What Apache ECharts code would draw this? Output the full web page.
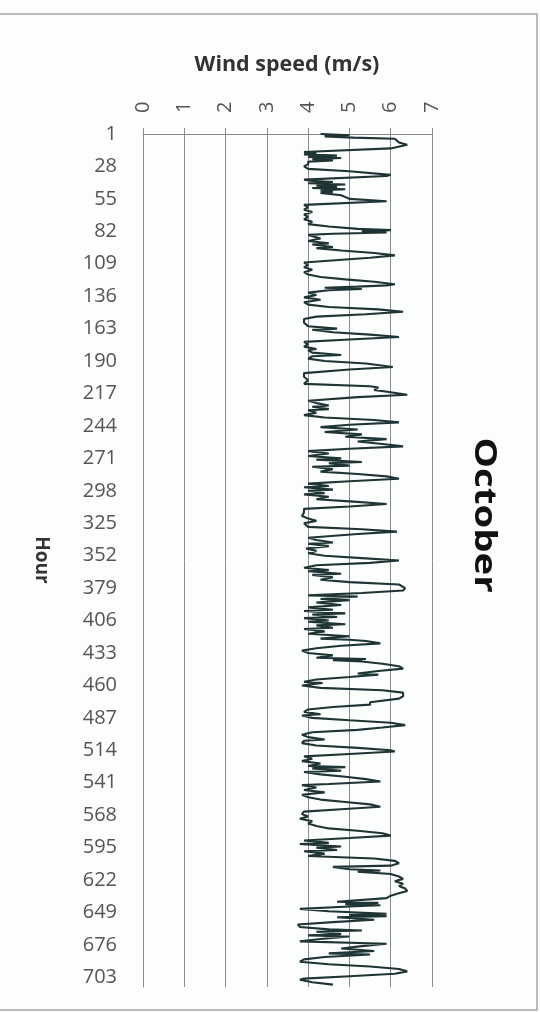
<!DOCTYPE html>
<html>
<head>
<meta charset="utf-8">
<script src="https://cdn.jsdelivr.net/npm/echarts@6/dist/echarts.min.js"></script>
<style>
html,body{margin:0;padding:0;background:#fcfdfd;}
#chart{width:540px;height:1012px;}
</style>
</head>
<body>
<div id="chart"></div>
<script>
// Hour index of each read point (turning points of the trace)
var hours = [
  1,2,3,4,5,8,10,13,16,17,
  18,19,20,21,22,23,24,26,28,30,
  32,35,36,39,40,41,42,43,44,45,
  46,47,48,49,50,52,55,57,60,62,
  64,66,68,70,72,74,76,78,80,81,
  82,83,84,85,86,88,90,92,93,95,
  96,98,100,102,104,108,110,112,114,116,
  118,120,122,124,126,127,128,129,130,131,
  133,135,137,139,141,143,145,147,149,151,
  153,155,158,161,163,164,166,168,170,172,
  174,176,178,180,181,183,185,186,188,190,
  192,195,197,200,203,206,209,211,212,214,
  216,218,220,223,225,227,228,230,231,233,
  235,237,239,241,243,245,247,249,251,253,
  255,257,259,261,263,265,267,269,271,272,
  274,275,277,278,280,282,284,286,288,290,
  292,294,295,297,298,300,301,303,305,307,
  309,311,313,316,319,321,323,325,328,330,
  332,334,337,339,341,342,344,346,348,350,
  352,354,356,358,360,362,364,365,367,368,
  370,372,374,376,379,381,383,385,386,388,
  389,391,393,395,397,398,400,401,403,404,
  406,407,409,410,412,413,415,417,419,421,
  422,423,425,427,429,431,433,435,437,438,
  439,440,442,444,446,448,450,451,453,455,
  457,458,460,462,464,466,469,471,474,476,
  478,480,482,484,485,487,489,491,493,495,
  497,499,501,503,505,506,508,510,512,514,
  515,517,519,521,523,525,527,528,529,531,
  532,534,536,538,540,542,543,545,547,549,
  551,553,555,557,559,561,563,565,567,569,
  571,573,575,577,579,581,583,585,587,589,
  591,592,594,595,597,598,600,602,604,606,
  608,610,611,613,614,615,617,619,621,623,
  625,627,629,631,633,635,637,638,640,641,
  642,643,644,646,648,650,651,652,653,655,
  657,659,661,663,664,665,667,668,669,671,
  673,675,677,679,681,683,684,686,688,690,
  692,694,696,698,700,702,704,705,707,709
];
// Wind speed (m/s) at those hours
var speeds = [
  4.3,5.0,4.4,5.1,6.1,6.2,6.4,6.0,3.9,4.2,
  3.9,4.7,4.0,4.8,4.1,4.6,4.0,4.0,3.9,4.0,
  5.0,6.0,5.9,3.9,4.1,4.6,4.0,4.9,4.2,4.7,
  4.1,4.9,4.3,4.6,4.3,4.8,5.0,5.9,3.9,4.0,
  3.9,4.1,3.9,4.0,3.9,4.1,4.0,4.5,5.2,6.0,
  5.3,5.9,4.6,4.0,4.0,4.3,4.0,4.5,4.1,4.6,
  4.2,4.8,5.6,6.1,5.5,3.9,4.0,3.9,4.1,3.9,
  4.0,4.3,4.9,5.6,6.1,5.9,5.2,4.4,5.3,4.5,
  4.0,4.2,3.9,4.3,3.9,4.0,4.5,5.7,6.3,5.4,
  4.2,3.9,3.9,4.0,4.7,4.1,4.6,5.5,6.2,5.0,
  3.9,4.0,3.9,4.2,4.0,4.1,4.8,4.1,4.0,4.4,
  5.4,6.05,5.0,3.9,3.9,4.0,3.9,5.5,5.7,5.6,
  6.0,6.4,5.2,4.0,4.2,4.5,4.1,4.5,4.0,4.2,
  3.9,4.4,5.6,6.2,5.0,4.3,5.2,4.4,5.3,4.9,
  5.9,5.2,5.8,6.3,5.0,4.0,4.5,4.0,4.8,4.2,
  5.3,4.5,5.0,4.1,4.6,4.3,5.2,5.9,6.2,5.0,
  4.0,4.5,3.9,4.6,4.0,4.4,3.9,4.5,4.2,5.1,
  5.9,5.0,3.9,3.9,3.85,4.0,4.2,3.9,4.0,5.3,
  6.15,5.2,4.0,4.2,4.6,4.0,4.5,3.95,4.2,4.0,
  4.4,5.3,6.2,5.5,4.2,3.9,4.5,4.0,4.8,4.1,
  4.6,4.3,5.0,6.2,6.35,6.3,5.3,4.0,5.2,4.3,
  5.0,4.2,4.8,4.0,4.6,3.9,4.9,4.1,4.7,3.9,
  4.5,4.0,4.9,4.2,4.6,3.9,4.4,4.0,5.0,4.3,
  5.0,5.4,5.75,4.8,4.2,3.85,4.0,4.6,4.2,5.4,
  4.6,5.3,5.8,6.2,6.3,5.7,5.2,5.7,5.0,4.2,
  3.9,4.35,3.85,4.3,5.8,6.3,6.3,6.2,5.5,5.5,
  4.6,4.0,3.9,4.3,3.85,4.1,5.0,6.0,6.35,5.8,
  5.2,4.1,3.85,4.0,4.4,3.9,3.85,4.2,5.2,6.0,
  6.1,5.0,3.9,4.1,3.85,4.3,4.0,4.9,4.1,4.8,
  3.9,4.3,4.9,5.4,5.75,4.5,3.85,4.2,3.9,4.4,
  3.85,4.0,4.3,4.9,5.5,5.75,4.8,3.9,3.85,4.0,
  3.8,4.1,4.0,4.2,4.5,5.2,5.8,6.0,5.0,3.9,
  4.5,3.8,4.8,4.2,4.7,3.9,4.4,4.0,5.6,6.1,
  6.2,6.0,4.6,5.0,5.75,5.2,6.0,6.2,6.3,6.1,
  6.3,6.2,6.35,6.4,6.2,6.0,5.9,5.9,4.7,5.7,
  4.9,5.75,5.0,3.8,4.5,5.9,5.0,5.9,4.7,5.6,
  4.6,3.75,3.8,4.5,5.3,4.2,4.8,4.0,5.0,4.3,
  3.8,5.9,5.3,4.8,5.6,4.5,5.5,4.4,3.9,3.8,
  4.5,5.5,6.2,6.4,6.1,5.0,3.9,3.8,4.1,4.6
];
// Hour tick labels shown on the axis
var hourTicks = [1,28,55,82,109,136,163,190,217,244,271,298,325,352,379,406,433,460,487,514,541,568,595,622,649,676,703];
var speedTicks = [0,1,2,3,4,5,6,7];

var chart = echarts.init(document.getElementById('chart'), null, {renderer:'canvas'});
var grey = '#8c8c8c';
var font = '"Open Sans", "Liberation Sans", sans-serif';
chart.setOption({
  backgroundColor: '#fcfdfd',
  animation: false,
  grid: {left: 143, right: 108, top: 134, bottom: 25, containLabel: false},
  xAxis: {
    type: 'value', position: 'top',
    min: speedTicks[0], max: speedTicks[speedTicks.length-1], interval: 1,
    axisLine: {show: true, lineStyle: {color: grey, width: 1}},
    axisTick: {show: true, inside: false, length: 6, lineStyle: {color: grey}},
    splitLine: {show: true, lineStyle: {color: grey, width: 1}},
    axisLabel: {rotate: -90, margin: 21, fontSize: 20, fontFamily: font, color: '#555'}
  },
  yAxis: {
    type: 'value', inverse: true, min: 1, max: 711, interval: 27,
    axisLine: {show: true, lineStyle: {color: grey, width: 1}},
    axisTick: {show: false},
    splitLine: {show: false},
    axisLabel: {
      margin: 26, fontSize: 20, fontFamily: font, color: '#555',
      formatter: function (v) { return hourTicks.indexOf(v) >= 0 ? String(v) : ''; }
    }
  },
  series: [{
    type: 'line',
    data: hours.map(function (h, i) { return [speeds[i], h]; }),
    showSymbol: false, symbol: 'none',
    lineStyle: {color: '#1f3434', width: 2.1},
    z: 5
  }],
  graphic: [
    {type: 'rect', shape: {x: -1, y: 14, width: 538, height: 996},
     style: {fill: null, stroke: '#a6a6a6', lineWidth: 1.5}, z: -1},
    {type: 'text', x: 287, y: 65,
     style: {text: 'Wind speed (m/s)', font: 'bold 21.5px ' + font, fill: '#333', align: 'center', verticalAlign: 'middle'}},
    {type: 'text', x: 41, y: 560, rotation: -Math.PI / 2,
     style: {text: 'Hour', font: 'bold 19px ' + font, fill: '#333', align: 'center', verticalAlign: 'middle'}},
    {type: 'text', x: 484, y: 515, rotation: -Math.PI / 2, scaleX: 1.28,
     style: {text: 'October', font: 'bold 30px ' + font, fill: '#111', align: 'center', verticalAlign: 'middle'}}
  ]
});
</script>
</body>
</html>
